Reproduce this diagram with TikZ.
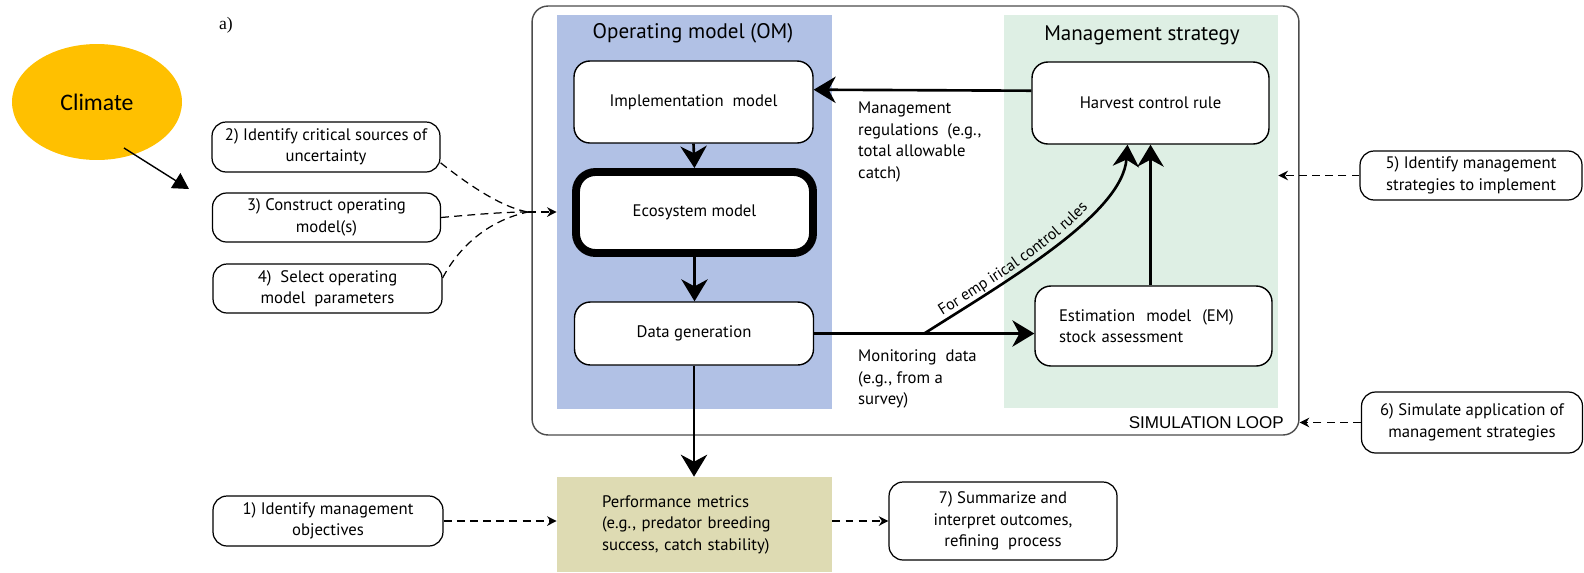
\documentclass[tikz,border=0pt]{standalone}
\usepackage{fontspec}
\setmainfont{PT Sans}
\newfontfamily\climatefont{Carlito}
\newfontfamily\loopfont{Liberation Sans}
\newfontfamily\panelfont{Liberation Serif}
\usetikzlibrary{shapes.geometric,arrows.meta,calc,decorations.text}

\begin{document}
\begin{tikzpicture}[x=0.02cm,y=-0.02cm,
	boxfont/.style={font=\fontsize{9.5}{12.2}\selectfont},
	stepbox/.style={draw,rounded corners=8pt,line width=0.7pt,align=center,inner sep=2pt,boxfont},
	modelbox/.style={draw,fill=white,rounded corners=9pt,line width=0.8pt,minimum width=4.78cm,inner sep=2pt,boxfont},
	panel/.style={inner sep=0pt},
	bigarrow/.style={line width=1.5pt,-{Stealth[length=12.5pt,width=15pt,inset=4pt]}},
	dasharrow/.style={dash pattern=on 4.5pt off 3pt,line width=0.8pt,-{Stealth[length=5.5pt,width=5.5pt]}},
	dashline/.style={dash pattern=on 4.5pt off 3pt,line width=0.7pt}]
					\definecolor{omblue}{RGB}{177,193,229}
					\definecolor{msgreen}{RGB}{222,239,228}
					\definecolor{perfkhaki}{RGB}{222,219,179}
					\definecolor{climateorange}{HTML}{FFC000}
					\useasboundingbox (0,0) rectangle (1584,572);

					\node[panel,draw=black!70,line width=0.8pt,rounded corners=9pt,minimum width=15.34cm,minimum height=8.58cm] (loop) at (915.5,220.5) {};
					\node[panel,fill=omblue,minimum width=5.5cm,minimum height=7.88cm] (omp) at (694.5,212) {};
					\node[panel,fill=msgreen,minimum width=5.48cm,minimum height=7.86cm] (msp) at (1141,211.5) {};
					\node[font=\fontsize{12}{14}\selectfont] (omtitle) at (693,33) {Operating model (OM)};
					\node[font=\fontsize{12}{14}\selectfont] (mstitle) at (1142,35) {Management strategy};
					\node[anchor=east,font=\loopfont\fontsize{9.7}{12}\selectfont] (looplabel) at (1290,423) {SIMULATION LOOP};

					\node[modelbox,minimum height=1.64cm] (impl) at (693.5,102) {Implementation\ \ model};
					\node[modelbox,line width=4.5pt,rounded corners=11pt,minimum width=4.74cm,minimum height=1.62cm] (eco) at (694.5,212.5) {Ecosystem model};
					\node[modelbox,minimum height=1.26cm] (data) at (694,333.5) {Data generation};
					\node[modelbox,minimum width=4.74cm,minimum height=1.64cm] (hcr) at (1150.5,103) {Harvest control rule};
					\node[modelbox,minimum width=4.74cm,minimum height=1.6cm,text width=3.78cm,align=left] (em) at (1153.5,326) {Estimation\ \ model\ \ (EM)\\stock assessment};
					\node[panel,fill=perfkhaki,minimum width=5.5cm,minimum height=1.9cm,text width=3.7cm,align=left,boxfont] (perf) at (694.5,524.5) {Performance metrics\\(e.g., predator breeding\\success, catch stability)};

					\node[stepbox,minimum width=4.56cm,minimum height=1cm] (idunc) at (326,147) {2) Identify critical sources of\\uncertainty};
					\node[stepbox,minimum width=4.56cm,minimum height=0.98cm] (buildom) at (326.5,217.5) {3) Construct operating\\model(s)};
					\node[stepbox,minimum width=4.58cm,minimum height=0.98cm] (selpar) at (327.5,288.5) {4)\ \ Select operating\\model\ \ parameters};
					\node[stepbox,minimum width=4.6cm,minimum height=1cm] (idobj) at (328,521) {1) Identify management\\objectives};
					\node[stepbox,minimum width=4.44cm,minimum height=0.98cm] (idstrat) at (1471,175.5) {5) Identify management\\strategies to implement};
					\node[stepbox,minimum width=4.42cm,minimum height=1.22cm] (simapp) at (1472,422.5) {6) Simulate application of\\management strategies};
					\node[stepbox,minimum width=4.56cm,minimum height=1.56cm] (summ) at (1003,521) {7) Summarize and\\interpret outcomes,\\refining\ \ process};

					\node[anchor=west,align=left,boxfont] (mgmtreg) at (852,142) {Management\\regulations\ \ (e.g.,\\total allowable\\catch)};
					\node[anchor=west,align=left,boxfont] (mondata) at (852,379) {Monitoring\ \ data\\(e.g., from a\\survey)};

					\node[ellipse,fill=climateorange,minimum width=3.4cm,minimum height=2.32cm,font=\climatefont\fontsize{13.5}{16}\selectfont] (climate) at (97,102) {Climate};
					\node[font=\panelfont\fontsize{10}{12}\selectfont] (panela) at (226,25) {a)};

					\coordinate (climtip) at (189,189);
					\coordinate (merge) at (528,212);
					\coordinate (split) at ($(data.east)!0.5!(data.east -| em.west)$);
					\coordinate (hcrin) at ($(hcr.south)+(-23,0)$);

					\draw[line width=0.8pt,-{Triangle[length=9pt,width=10pt]}] ([shift={(27,46)}]climate.center) -- (climtip);
					\draw[dashline] ([yshift=-9pt]idunc.east) .. controls (475,190) and (505,208) .. (merge);
					\draw[dashline] (buildom.east) .. controls (480,214) and (505,212) .. (merge);
					\draw[dashline] ([yshift=6pt]selpar.east) .. controls (460,245) and (490,220) .. (merge);
					\draw[dasharrow] (merge) -- (merge -| omp.west);
					\draw[dasharrow] (idobj.east) -- (idobj.east -| perf.west);
					\draw[dasharrow] (summ.west -| perf.east) -- (summ.west);
					\draw[dasharrow] (idstrat.west) -- (idstrat.west -| msp.east);
					\draw[dasharrow] (simapp.west) -- (simapp.west -| loop.east);

					\draw[bigarrow] ([yshift=7pt]hcr.west) -- ([yshift=7pt]impl.east);
					\draw[bigarrow] (impl.south) -- (eco.north);
					\draw[bigarrow] (eco.south) -- (eco.south |- data.north);
					\draw[bigarrow] (data.south) -- (data.south |- perf.north);
					\draw[bigarrow] (data.east) -- (data.east -| em.west);
					\draw[bigarrow] (em.north -| hcr.south) -- (hcr.south);
					\draw[bigarrow] (split) .. controls +(85,-54) and +(-5,69) .. (hcrin);
					\path[decorate,decoration={text along path,text align={left indent=14pt},raise=3pt,text={|\fontsize{9}{11}\selectfont|For emp irical control rules}}] (split) .. controls +(85,-54) and +(-5,69) .. (hcrin);
				\end{tikzpicture}
\end{document}
